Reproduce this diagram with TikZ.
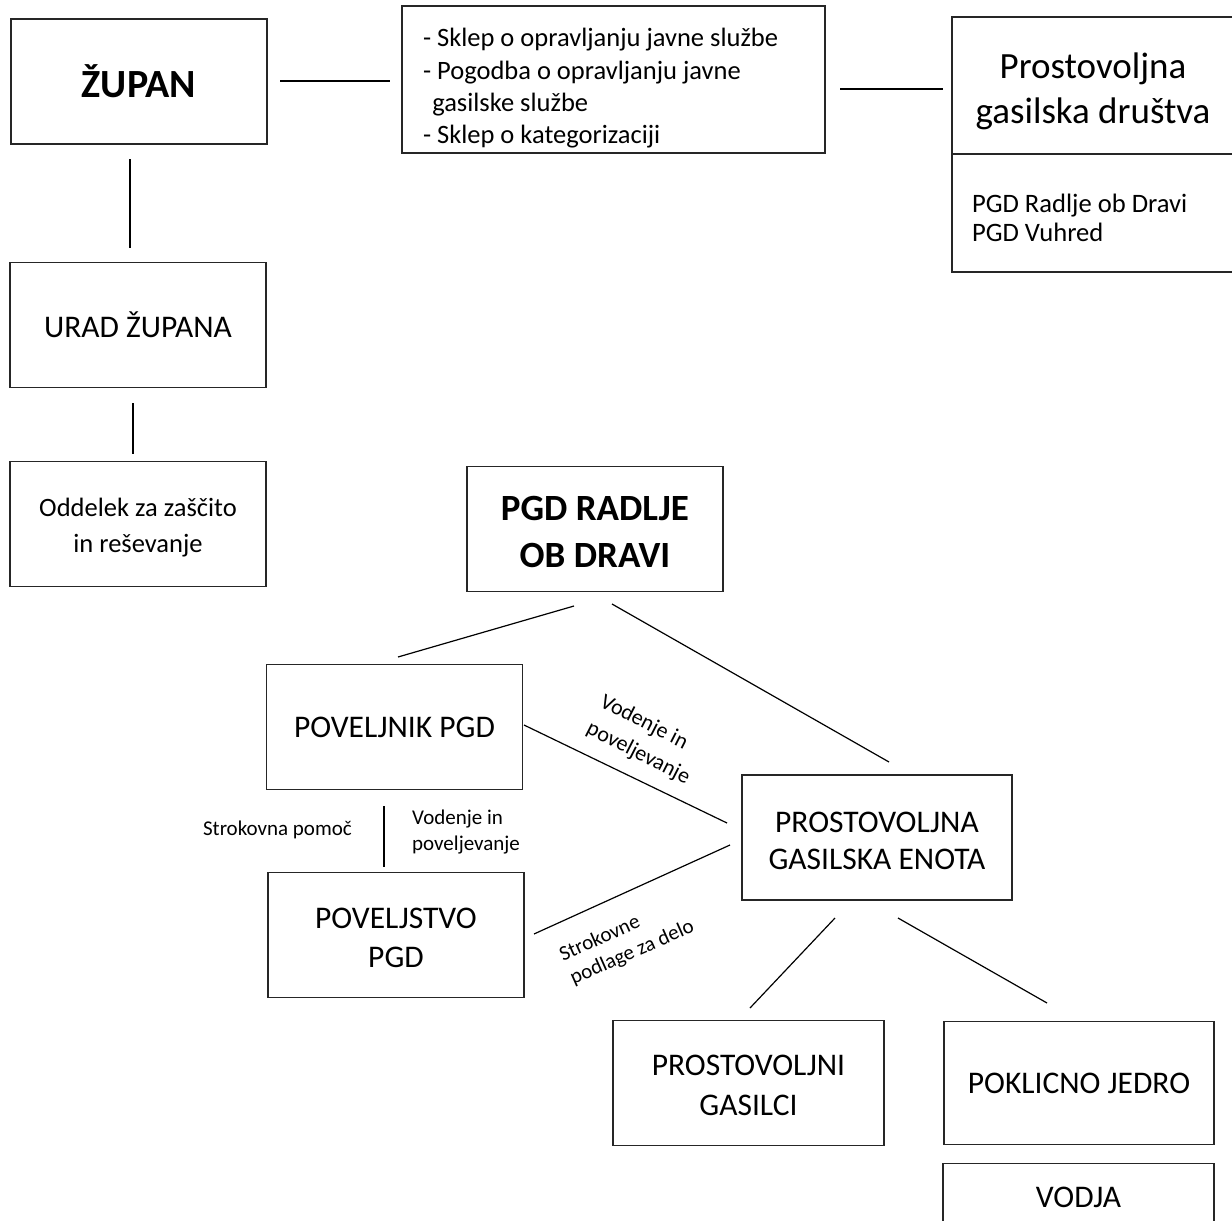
\documentclass[tikz,border=0pt]{standalone}
\usepackage{fontspec}
\setmainfont{Carlito}
\tikzset{
  box/.style={draw=black!85, line width=1.3pt, minimum width=256pt, minimum height=125pt, align=center, inner sep=0pt},
  conn/.style={line width=1.2pt, black},
  fbig/.style={font=\fontsize{31.5}{38}\selectfont},
  fbold/.style={font=\fontsize{37}{47}\selectfont\bfseries},
  fmid/.style={font=\fontsize{26}{33}\selectfont},
  fsmall/.style={font=\fontsize{21}{26}\selectfont},
}
\newcommand{\lift}[1]{\rule{0pt}{#1}}
\begin{document}
\begin{tikzpicture}[x=1pt,y=-1pt]
\useasboundingbox (0,0) rectangle (1232,1221);
\fill[white] (0,0) rectangle (1232,1221);
\clip (0,0) rectangle (1232,1221);

% boxes
\node[box, font=\fontsize{40}{48}\selectfont\bfseries] (zupan) at (139,81.5) {ŽUPAN};
\node[box, minimum width=423pt, minimum height=147pt, text width=381pt, inner xsep=21pt, align=flush left, font=\fontsize{26.5}{32.4}\selectfont] (docs) at (613.5,79.5) {\lift{36pt}- Sklep o opravljanju javne službe\\- Pogodba o opravljanju javne\\\hspace*{0.35em}gasilske službe\\- Sklep o kategorizaciji};
\node[box, minimum width=282pt, minimum height=137pt, font=\fontsize{37}{45}\selectfont] (drustva) at (1093,85.5) {\lift{38pt}Prostovoljna\\gasilska društva};
\node[box, minimum width=282pt, minimum height=118pt, text width=242pt, inner xsep=20pt, align=flush left, font=\fontsize{26.6}{29}\selectfont] (seznam) at (1093,213) {\lift{28pt}PGD Radlje ob Dravi\\PGD Vuhred};
\node[box, fbig] (urad) at (138,325) {URAD ŽUPANA};
\node[box, font=\fontsize{26.5}{36}\selectfont] (oddelek) at (138,524) {\lift{26pt}Oddelek za zaščito\\in reševanje};
\node[box, fbold] (pgd) at (595,529) {\lift{30pt}PGD RADLJE\\OB DRAVI};
\node[box, fbig] (poveljnik) at (394.5,727) {POVELJNIK PGD};
\node[box, minimum width=270pt, font=\fontsize{31.5}{37}\selectfont] (pge) at (877,837.5) {\lift{28pt}PROSTOVOLJNA\\GASILSKA ENOTA};
\node[box, font=\fontsize{31.5}{39}\selectfont] (poveljstvo) at (396,935) {\lift{26.5pt}POVELJSTVO\\PGD};
\node[box, minimum width=271pt, font=\fontsize{31.5}{40}\selectfont] (gasilci) at (748.5,1083) {\lift{24.5pt}PROSTOVOLJNI\\GASILCI};
\node[box, minimum width=270pt, minimum height=123pt, fbig] (jedro) at (1079,1083) {POKLICNO JEDRO};
\node[box, minimum width=271pt, anchor=north, label={[fbig, anchor=center, yshift=-34pt]north:VODJA}] (vodja) at (1078.5,1163) {};

% connector end points
\coordinate (z1) at (280,81);   \coordinate (d1) at (390,81);
\coordinate (d2) at (840,89);   \coordinate (p1) at (943,89);
\coordinate (z2) at (130,159);  \coordinate (u1) at (130,248);
\coordinate (u2) at (133,403);  \coordinate (o1) at (133,454);
\coordinate (g1) at (574,606);  \coordinate (k1) at (398,657);
\coordinate (g2) at (612,604);  \coordinate (e1) at (889,762);
\coordinate (k2) at (524,725);  \coordinate (e2) at (727,823);
\coordinate (k3) at (384,806);  \coordinate (s1) at (384,867);
\coordinate (s2) at (534,934);  \coordinate (e3) at (730,845);
\coordinate (e4) at (835,918);  \coordinate (a1) at (750,1008);
\coordinate (e5) at (898,918);  \coordinate (j1) at (1047,1003);

% connectors
\draw[conn] (z1) -- (d1);
\draw[conn] (d2) -- (p1);
\draw[conn] (z2) -- (u1);
\draw[conn] (u2) -- (o1);
\draw[conn] (g1) -- (k1);
\draw[conn] (g2) -- (e1);
\draw[conn] (k2) -- (e2);
\draw[conn] (k3) -- (s1);
\draw[conn] (s2) -- (e3);
\draw[conn] (e4) -- (a1);
\draw[conn] (e5) -- (j1);

% labels
\node[fsmall, anchor=east, inner sep=0pt] (lpomoc) at (352,830) {Strokovna pomoč};
\node[anchor=west, align=left, inner sep=0pt, font=\fontsize{21}{26}\selectfont] (lvod1) at (412,832) {Vodenje in\\poveljevanje};
\node[rotate=-27, align=left, inner sep=0pt, font=\fontsize{22}{30}\selectfont] (lvod2) at (645,740) {Vodenje in\\poveljevanje};
\node[rotate=24, align=left, inner sep=0pt, font=\fontsize{21}{26}\selectfont] (lpodlage) at (627,941) {Strokovne\\podlage za delo};
\end{tikzpicture}
\end{document}
